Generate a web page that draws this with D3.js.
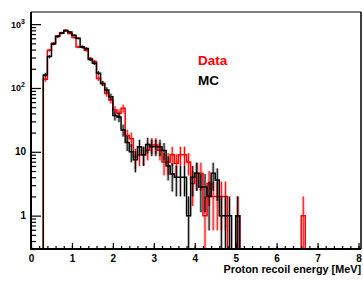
<!DOCTYPE html>
<html>
<head>
<meta charset="utf-8">
<script src="https://cdn.jsdelivr.net/npm/d3@7"></script>
<style>
  html, body { margin: 0; padding: 0; background: #fff; }
  svg { display: block; font-family: "Liberation Sans", Arial, sans-serif; font-weight: bold; }
</style>
</head>
<body>
<div id="chart"></div>
<script>
(function () {
  "use strict";

  // histogram bins: 0.1 MeV wide, first filled bin starts at 0.3 MeV
  const binLow = 0.3;
  const binWidth = 0.1;

  const mcCounts = [
    160, 310, 490, 640, 720, 790, 750, 670, 600, 440,
    415, 280, 245, 170, 118, 93, 73, 37, 35, 22,
    14, 10, 7.5, 12, 9, 13, 12, 12, 12, 10.5,
    6, 4.5, 4, 4, 4, 1, 4, 4.6, 2.8, 2.8,
    2, 4.6, 3.6, 1, 1, 1, 0, 1
  ];

  const dataCounts = [
    137, 390, 500, 650, 735, 806, 715, 620, 440, 440,
    390, 290, 260, 141, 118, 82, 65, 45, 40, 48,
    18, 16, 8.3, 9, 9, 10.6, 12.8, 12.8, 10.6, 6.9,
    6.9, 9, 6.6, 9, 9, 6.9, 3.2, 4.6, 4.6, 1,
    3.2, 2, 2, 2, 2, 0, 0, 1
  ];

  const dataOutlierBins = [6.6];
  const dataOutlierCounts = [1];

  const xTicks = [0, 1, 2, 3, 4, 5, 6, 7, 8];
  const yDecades = [1, 10, 100, 1000];

  const W = 363, H = 283;
  const frame = { left: 31, right: 361, top: 12, bottom: 249 };

  const x = d3.scaleLinear().domain([0, 8]).range([31, 358.5]);
  const y = d3.scaleLog().domain([0.3, 1550]).range([frame.bottom, frame.top]);

  const toBins = (counts) => counts.map((v, i) => {
    const x0 = Math.round((binLow + i * binWidth) * 10) / 10;
    return { x0, x1: Math.round((x0 + binWidth) * 10) / 10, v };
  });

  const mcBins = toBins(mcCounts);
  const dataBins = toBins(dataCounts).concat(
    dataOutlierBins.map((x0, i) => ({ x0, x1: Math.round((x0 + binWidth) * 10) / 10, v: dataOutlierCounts[i] }))
  );

  const svg = d3.select("#chart").append("svg")
    .attr("width", W).attr("height", H);

  svg.append("defs").append("clipPath").attr("id", "plotclip")
    .append("rect")
    .attr("x", frame.left).attr("y", frame.top)
    .attr("width", frame.right - frame.left).attr("height", frame.bottom - frame.top);

  const yv = (v) => (v > 0 ? y(Math.max(v, 0.3)) : frame.bottom);

  const stepPath = (bins) => {
    let p = "";
    let prevX1 = null;
    bins.forEach((b) => {
      if (prevX1 === null || Math.abs(prevX1 - b.x0) > 1e-6) {
        if (prevX1 !== null) p += `L${x(prevX1)},${frame.bottom}`;
        p += `M${x(b.x0)},${frame.bottom}`;
      }
      p += `L${x(b.x0)},${yv(b.v)}L${x(b.x1)},${yv(b.v)}`;
      prevX1 = b.x1;
    });
    p += `L${x(prevX1)},${frame.bottom}`;
    return p;
  };

  const plot = svg.append("g").attr("clip-path", "url(#plotclip)");

  const drawHist = (bins, color, boxFill) => {
    const g = plot.append("g");
    const filled = bins.filter((b) => b.v > 0);

    g.selectAll("rect.err")
      .data(filled)
      .join("rect")
      .attr("class", "err")
      .attr("x", (b) => x(b.x0) + 0.5)
      .attr("width", (b) => x(b.x1) - x(b.x0) - 1)
      .attr("y", (b) => y(b.v + Math.sqrt(b.v)))
      .attr("height", (b) => yv(b.v - Math.sqrt(b.v)) - y(b.v + Math.sqrt(b.v)))
      .attr("fill", boxFill);

    g.selectAll("line.bar")
      .data(filled)
      .join("line")
      .attr("class", "bar")
      .attr("x1", (b) => x((b.x0 + b.x1) / 2))
      .attr("x2", (b) => x((b.x0 + b.x1) / 2))
      .attr("y1", (b) => y(b.v + Math.sqrt(b.v)))
      .attr("y2", (b) => yv(b.v - Math.sqrt(b.v)))
      .attr("stroke", color)
      .attr("stroke-width", 1);

    g.append("path")
      .attr("d", stepPath(bins))
      .attr("fill", "none")
      .attr("stroke", color)
      .attr("stroke-width", 1.5);
  };

  drawHist(dataBins, "#ff0000", "rgba(255,0,0,0.25)");
  drawHist(mcBins, "#000000", "rgba(0,0,0,0.25)");

  // frame top/right
  svg.append("line")
    .attr("x1", frame.left).attr("x2", frame.right)
    .attr("y1", frame.top).attr("y2", frame.top)
    .attr("stroke", "#555").attr("stroke-width", 1.5);
  svg.append("line")
    .attr("x1", frame.right).attr("x2", frame.right)
    .attr("y1", frame.top).attr("y2", frame.bottom)
    .attr("stroke", "#000").attr("stroke-width", 1.5);

  // x axis
  const xMinor = d3.range(0, 8.01, 0.2).map((d) => Math.round(d * 10) / 10);
  const xAxisG = svg.append("g").attr("transform", `translate(0,${frame.bottom})`);
  xAxisG.append("g")
    .call(d3.axisBottom(x).tickValues(xMinor).tickSize(-3).tickFormat(""))
    .call((a) => a.select(".domain").remove());
  xAxisG.append("g")
    .call(d3.axisBottom(x).tickValues(xTicks).tickSize(-6).tickPadding(6).tickFormat(d3.format("d")))
    .call((a) => a.select(".domain").remove());
  xAxisG.selectAll(".tick line").attr("stroke", "#000").attr("stroke-width", 1.2);
  xAxisG.selectAll(".tick text")
    .attr("font-family", "\"Liberation Sans\", Arial, sans-serif")
    .attr("font-weight", "bold")
    .attr("font-size", 10)
    .attr("fill", "#000");
  svg.append("line")
    .attr("x1", frame.left - 1).attr("x2", frame.right)
    .attr("y1", frame.bottom).attr("y2", frame.bottom)
    .attr("stroke", "#000").attr("stroke-width", 2);

  // y axis
  const yMinor = y.ticks().filter((d) => !yDecades.includes(d));
  const yAxisG = svg.append("g").attr("transform", `translate(${frame.left},0)`);
  yAxisG.append("g")
    .call(d3.axisLeft(y).tickValues(yMinor).tickSize(-5).tickFormat(""))
    .call((a) => a.select(".domain").remove());
  yAxisG.append("g")
    .call(d3.axisLeft(y).tickValues(yDecades).tickSize(-10).tickFormat(""))
    .call((a) => a.select(".domain").remove());
  yAxisG.selectAll(".tick line").attr("stroke", "#000").attr("stroke-width", 1.2);
  svg.append("line")
    .attr("x1", frame.left).attr("x2", frame.left)
    .attr("y1", frame.top).attr("y2", frame.bottom + 1)
    .attr("stroke", "#000").attr("stroke-width", 2);

  const yLabels = svg.append("g").attr("fill", "#000");
  yDecades.forEach((d) => {
    const exp = Math.round(Math.log10(d));
    if (exp >= 2) {
      const t = yLabels.append("text")
        .attr("x", 25).attr("y", y(d) + 3.5)
        .attr("text-anchor", "end");
      t.append("tspan").attr("font-size", 9).text("10");
      t.append("tspan").attr("font-size", 7).attr("dy", -4).text(String(exp));
    } else {
      yLabels.append("text")
        .attr("x", 26).attr("y", y(d) + 3.5)
        .attr("text-anchor", "end")
        .attr("font-size", 10)
        .text(String(d));
    }
  });

  // axis title
  svg.append("text")
    .attr("x", 361).attr("y", 273)
    .attr("text-anchor", "end")
    .attr("font-size", 10.8)
    .attr("fill", "#000")
    .text("Proton recoil energy [MeV]");

  // legend text
  svg.append("text")
    .attr("x", 198).attr("y", 65)
    .attr("font-size", 13.5)
    .attr("fill", "#ff0000")
    .text("Data");
  svg.append("text")
    .attr("x", 198).attr("y", 85)
    .attr("font-size", 13.5)
    .attr("fill", "#000")
    .text("MC");
})();
</script>
</body>
</html>
